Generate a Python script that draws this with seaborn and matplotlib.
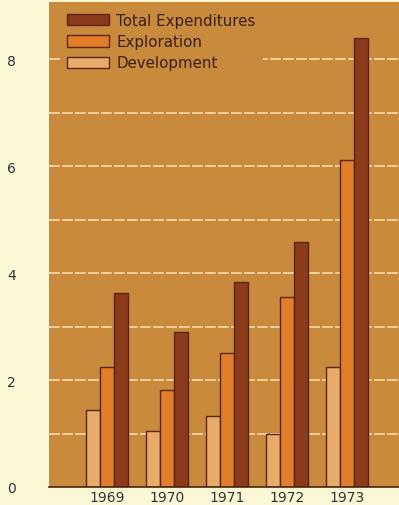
import matplotlib
matplotlib.use("Agg")
import matplotlib.pyplot as plt
import seaborn as sns
import pandas as pd
from matplotlib.patches import Patch

# Billions of dollars, by year
years = ["1969", "1970", "1971", "1972", "1973"]
development = [1.44, 1.05, 1.32, 1.00, 2.25]
exploration = [2.24, 1.82, 2.50, 3.55, 6.11]
total_expenditures = [3.63, 2.89, 3.83, 4.59, 8.39]

series_names = ["Development", "Exploration", "Total Expenditures"]
y_ticks = [0, 2, 4, 6, 8]

fig_bg = "#fcf8d6"
panel_bg = "#c98a3c"
bar_colors = {"Development": "#e9ab68", "Exploration": "#e27d2a", "Total Expenditures": "#8b3a1a"}
edge = "#5a2410"
text_col = "#3a1e10"

df = pd.DataFrame({
    "year": years * 3,
    "value": development + exploration + total_expenditures,
    "series": [s for s in series_names for _ in years],
})

sns.set_style("white")
plt.rcParams["font.family"] = ["DejaVu Sans"]

fig = plt.figure(figsize=(3.99, 5.06), dpi=100, facecolor=fig_bg)
ax = fig.add_axes([49 / 399, 18 / 506, 350 / 399, 485 / 506])
ax.set_facecolor(panel_bg)

sns.barplot(data=df, x="year", y="value", hue="series", hue_order=series_names,
            palette=bar_colors, width=0.7, edgecolor=edge, linewidth=1.0,
            saturation=1, ax=ax, legend=False, zorder=3)

# light dashed rules at every unit
for yv in range(1, 9):
    ax.axhline(yv, color="#f1d6a2", lw=1.3, ls=(0, (6, 1.2)), zorder=1)

ax.set_xlim(-0.965, 4.86)
ax.set_ylim(0, 9.07)
ax.set_yticks(y_ticks)
ax.set_yticklabels([str(t) for t in y_ticks])
ax.set_xlabel("")
ax.set_ylabel("")
ax.tick_params(axis="both", length=0, labelsize=10, colors="#333333")
ax.tick_params(axis="y", pad=24)
ax.tick_params(axis="x", pad=2)

for side in ["top", "right", "left"]:
    ax.spines[side].set_visible(False)
ax.spines["bottom"].set_color("#4a2410")
ax.spines["bottom"].set_linewidth(1.2)
ax.spines["bottom"].set_zorder(4)

handles = [Patch(facecolor=bar_colors[s], edgecolor=edge, linewidth=1.0)
           for s in reversed(series_names)]
leg = ax.legend(handles, list(reversed(series_names)), loc="upper left",
                bbox_to_anchor=(0.031, 0.993), borderaxespad=0, frameon=True,
                fontsize=10.8, handlelength=2.75, handleheight=0.8,
                handletextpad=0.5, labelspacing=0.42, borderpad=0.5,
                fancybox=False)
leg.get_frame().set_facecolor(panel_bg)
leg.get_frame().set_edgecolor("none")
leg.get_frame().set_alpha(1)
leg.set_zorder(5)
for t in leg.get_texts():
    t.set_color(text_col)

fig.savefig("out.png", dpi=100, facecolor=fig_bg)
